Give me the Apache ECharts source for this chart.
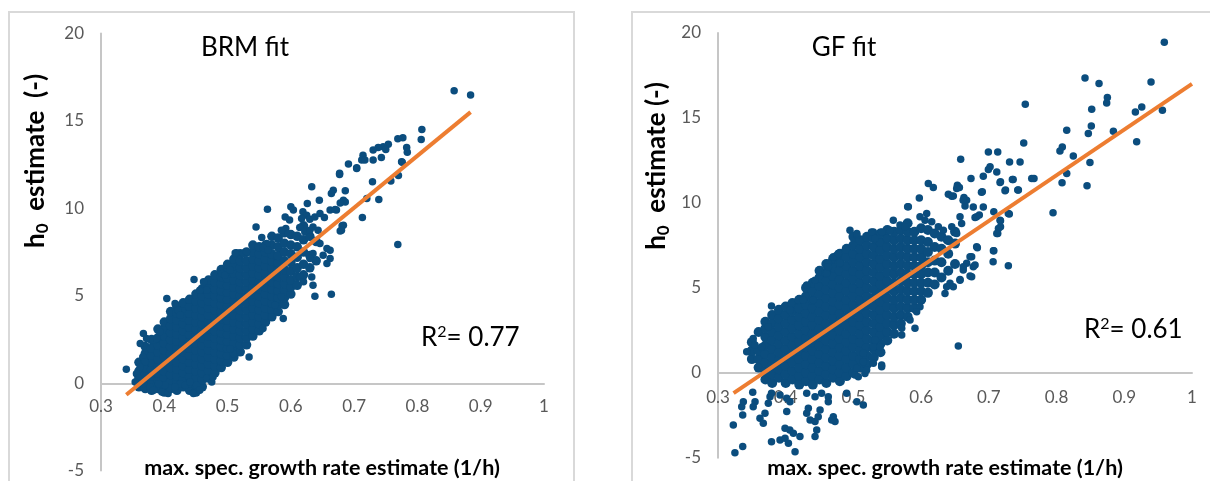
<!DOCTYPE html>
<html>
<head>
<meta charset="utf-8">
<script src="https://cdn.jsdelivr.net/npm/echarts@6/dist/echarts.min.js"></script>
<style>
  html, body { margin: 0; padding: 0; background: #fff; }
  #chart { width: 1210px; height: 481px; }
</style>
</head>
<body>
<div id="chart"></div>
<script>
// BRM fit: dense core, read column by column (x, list of y)
const brmCoreX = [0.36, 0.37, 0.38, 0.39, 0.40, 0.41, 0.42, 0.43, 0.44, 0.45, 0.46, 0.47, 0.48, 0.49, 0.50,
  0.51, 0.52, 0.53, 0.54, 0.55, 0.56, 0.57, 0.58, 0.59, 0.60, 0.61, 0.62, 0.63, 0.64];
const brmCoreY = [
  [-0.2, 0.3, 0.7, 1.2],
  [-0.3, 0.1, 0.5, 0.9, 1.3, 1.7, 2.1],
  [-0.4, 0.0, 0.4, 0.8, 1.2, 1.6, 2.0, 2.5],
  [-0.3, 0.2, 0.6, 1.0, 1.4, 1.8, 2.2, 2.6, 3.1],
  [-0.5, -0.1, 0.3, 0.7, 1.1, 1.5, 1.9, 2.3, 2.7, 3.1, 3.5],
  [-0.3, 0.1, 0.5, 0.9, 1.3, 1.7, 2.1, 2.5, 2.9, 3.3, 3.7, 4.1],
  [-0.4, 0.0, 0.4, 0.8, 1.2, 1.6, 2.0, 2.4, 2.8, 3.2, 3.6, 4.0, 4.4],
  [-0.2, 0.2, 0.6, 1.0, 1.4, 1.8, 2.2, 2.6, 3.0, 3.4, 3.8, 4.2, 4.6],
  [-0.4, 0.0, 0.4, 0.8, 1.2, 1.6, 2.0, 2.4, 2.8, 3.2, 3.6, 4.0, 4.4, 4.8],
  [-0.5, -0.1, 0.3, 0.7, 1.1, 1.5, 1.9, 2.3, 2.7, 3.1, 3.5, 3.9, 4.3, 4.7, 5.1],
  [-0.2, 0.2, 0.6, 1.0, 1.4, 1.8, 2.2, 2.6, 3.0, 3.4, 3.8, 4.2, 4.6, 5.0, 5.4],
  [0.3, 0.7, 1.1, 1.5, 1.9, 2.3, 2.7, 3.1, 3.5, 3.9, 4.3, 4.7, 5.1, 5.5, 5.9],
  [0.6, 1.0, 1.4, 1.8, 2.2, 2.6, 3.0, 3.4, 3.8, 4.2, 4.6, 5.0, 5.4, 5.8, 6.2],
  [0.9, 1.3, 1.7, 2.1, 2.5, 2.9, 3.3, 3.7, 4.1, 4.5, 4.9, 5.3, 5.7, 6.1, 6.5],
  [1.2, 1.6, 2.0, 2.4, 2.8, 3.2, 3.6, 4.0, 4.4, 4.8, 5.2, 5.6, 6.0, 6.4, 6.8],
  [1.5, 1.9, 2.3, 2.7, 3.1, 3.5, 3.9, 4.3, 4.7, 5.1, 5.5, 5.9, 6.3, 6.7, 7.1],
  [1.8, 2.2, 2.6, 3.0, 3.4, 3.8, 4.2, 4.6, 5.0, 5.4, 5.8, 6.2, 6.6, 7.0, 7.4],
  [2.2, 2.6, 3.0, 3.4, 3.8, 4.2, 4.6, 5.0, 5.4, 5.8, 6.2, 6.6, 7.0, 7.5],
  [2.7, 3.1, 3.5, 3.9, 4.3, 4.7, 5.1, 5.5, 5.9, 6.3, 6.7, 7.1, 7.5, 7.9],
  [3.0, 3.4, 3.8, 4.2, 4.6, 5.0, 5.4, 5.8, 6.2, 6.6, 7.0, 7.4, 7.8],
  [3.5, 3.9, 4.3, 4.7, 5.1, 5.5, 5.9, 6.3, 6.7, 7.1, 7.5, 7.9],
  [3.8, 4.2, 4.6, 5.0, 5.4, 5.8, 6.2, 6.6, 7.0, 7.4, 7.9, 8.4],
  [4.1, 4.5, 4.9, 5.3, 5.7, 6.1, 6.5, 6.9, 7.3, 7.8, 8.3],
  [4.5, 4.9, 5.3, 5.7, 6.1, 6.5, 7.0, 7.5, 8.0, 8.6],
  [5.1, 5.5, 5.9, 6.4, 6.9, 7.4, 7.9, 8.5],
  [5.6, 6.1, 6.6, 7.2, 7.8, 8.4],
  [6.2, 6.8, 7.5, 8.2, 9.0],
  [6.6, 7.3, 8.4],
  [7.0, 8.1]
];
// BRM fit: scattered points around the core
const brmEdge = [
  [0.858, 16.72], [0.884, 16.48], [0.807, 14.51], [0.806, 13.94], [0.777, 14.03], [0.769, 13.98], [0.754, 13.67],
  [0.746, 13.52], [0.738, 13.48], [0.730, 13.33], [0.750, 13.37], [0.783, 13.48], [0.784, 13.21], [0.743, 12.91],
  [0.730, 12.76], [0.714, 13.04], [0.712, 12.76], [0.717, 12.76], [0.704, 12.32], [0.691, 12.53], [0.776, 12.64],
  [0.770, 11.88], [0.758, 11.57], [0.729, 11.52], [0.677, 11.94], [0.667, 11.04], [0.686, 11.0], [0.683, 10.47],
  [0.672, 9.9], [0.720, 10.57], [0.739, 10.51], [0.713, 9.48], [0.681, 9.0], [0.678, 8.71], [0.769, 7.93], [0.662, 7.6],
  [0.704, 12.28], [0.677, 12.0], [0.775, 12.66], [0.633, 11.23], [0.664, 10.85], [0.645, 10.47], [0.686, 10.37],
  [0.678, 10.31], [0.626, 10.28], [0.600, 10.09], [0.604, 9.9], [0.563, 9.95], [0.662, 9.9], [0.670, 9.94],
  [0.619, 9.8], [0.625, 9.61], [0.617, 9.42], [0.630, 9.37], [0.638, 9.51], [0.646, 9.71], [0.591, 9.51],
  [0.598, 9.33], [0.653, 9.48], [0.545, 8.94], [0.592, 8.85], [0.585, 8.75], [0.596, 8.56], [0.614, 8.9],
  [0.622, 8.66], [0.630, 8.75], [0.635, 8.94], [0.643, 8.75], [0.683, 9.04], [0.680, 8.75], [0.554, 8.33],
  [0.562, 7.99], [0.556, 7.76], [0.564, 7.61], [0.514, 7.46], [0.528, 7.51],
  [0.646, 7.99], [0.657, 7.71], [0.662, 7.13], [0.657, 6.85], [0.651, 7.32], [0.635, 7.42], [0.630, 7.13],
  [0.614, 6.08], [0.633, 6.08], [0.635, 5.61], [0.620, 5.8], [0.638, 4.98], [0.664, 5.09], [0.588, 3.70],
  [0.340, 0.80], [0.362, 2.27], [0.367, 2.84], [0.372, 2.56], [0.383, 2.46], [0.388, 2.56], [0.366, 1.5],
  [0.370, 1.22], [0.362, 0.93], [0.356, 0.55], [0.359, 0.27], [0.354, 0.07], [0.367, -0.02], [0.377, -0.21],
  [0.383, -0.40], [0.396, -0.5], [0.406, -0.59],
  [0.404, 4.85], [0.417, 4.56], [0.422, 4.18], [0.425, 3.89], [0.393, 2.94], [0.447, 5.93], [0.462, 5.8],
  [0.467, 5.32], [0.456, 5.32], [0.491, 6.28], [0.496, 6.18], [0.504, 6.46], [0.512, 7.45], [0.525, 7.42], [0.530, 7.51],
  [0.425, -0.02], [0.433, -0.11], [0.441, 0.07], [0.451, -0.11], [0.456, -0.40], [0.446, -0.59], [0.467, 0.27],
  [0.475, 0.07], [0.477, 0.36], [0.409, -0.3], [0.417, -0.21], [0.401, -0.11], [0.391, -0.02],
  [0.534, 1.5], [0.509, 1.70], [0.504, 1.98], [0.556, 3.13], [0.570, 3.79], [0.575, 4.46], [0.585, 4.94]
];
const brmFit = [[0.340, -0.65], [0.884, 15.5]];

// GF fit: dense core
const gfCoreX = [0.35, 0.36, 0.37, 0.38, 0.39, 0.40, 0.41, 0.42, 0.43, 0.44, 0.45, 0.46, 0.47, 0.48, 0.49, 0.50,
  0.51, 0.52, 0.53, 0.54, 0.55, 0.56, 0.57, 0.58, 0.59, 0.60, 0.61, 0.62, 0.63, 0.64, 0.65];
const gfCoreY = [
  [0.8, 1.3, 1.8],
  [0.3, 0.8, 1.3, 2.4],
  [-0.4, 0.1, 0.6, 1.1, 1.6, 2.1, 2.6, 3.0],
  [-0.6, -0.1, 0.4, 0.9, 1.4, 1.9, 2.4, 2.9, 3.4],
  [-0.3, 0.2, 0.7, 1.2, 1.7, 2.2, 2.7, 3.2, 3.7],
  [-0.6, -0.1, 0.4, 0.9, 1.4, 1.9, 2.4, 2.9, 3.4, 3.9],
  [-0.4, 0.1, 0.6, 1.1, 1.6, 2.1, 2.6, 3.1, 3.6, 4.1],
  [-0.7, -0.2, 0.3, 0.8, 1.3, 1.8, 2.3, 2.8, 3.3, 3.8, 4.3],
  [-0.5, 0.0, 0.5, 1.0, 1.5, 2.0, 2.5, 3.0, 3.5, 4.0, 4.5, 5.0],
  [-0.7, -0.2, 0.3, 0.8, 1.3, 1.8, 2.3, 2.8, 3.3, 3.8, 4.3, 4.8, 5.3],
  [-0.4, 0.1, 0.6, 1.1, 1.6, 2.1, 2.6, 3.1, 3.6, 4.1, 4.6, 5.1, 5.6, 6.0],
  [-0.6, -0.1, 0.4, 0.9, 1.4, 1.9, 2.4, 2.9, 3.4, 3.9, 4.4, 4.9, 5.4, 5.9, 6.4],
  [-0.3, 0.2, 0.7, 1.2, 1.7, 2.2, 2.7, 3.2, 3.7, 4.2, 4.7, 5.2, 5.7, 6.2, 6.7],
  [-0.5, 0.0, 0.5, 1.0, 1.5, 2.0, 2.5, 3.0, 3.5, 4.0, 4.5, 5.0, 5.5, 6.0, 6.5, 7.0],
  [-0.2, 0.3, 0.8, 1.3, 1.8, 2.3, 2.8, 3.3, 3.8, 4.3, 4.8, 5.3, 5.8, 6.3, 6.8, 7.3],
  [0.0, 0.5, 1.0, 1.5, 2.0, 2.5, 3.0, 3.5, 4.0, 4.5, 5.0, 5.5, 6.0, 6.5, 7.0, 7.5, 8.0],
  [0.3, 0.8, 1.3, 1.8, 2.3, 2.8, 3.3, 3.8, 4.3, 4.8, 5.3, 5.8, 6.3, 6.8, 7.3, 7.8],
  [0.5, 1.0, 1.5, 2.0, 2.5, 3.0, 3.5, 4.0, 4.5, 5.0, 5.5, 6.0, 6.5, 7.0, 7.5, 8.0],
  [0.9, 1.4, 1.9, 2.4, 2.9, 3.4, 3.9, 4.4, 4.9, 5.4, 5.9, 6.4, 6.9, 7.4, 7.9],
  [1.2, 1.7, 2.2, 2.7, 3.2, 3.7, 4.2, 4.7, 5.2, 5.7, 6.2, 6.7, 7.2, 7.7, 8.2],
  [1.9, 2.4, 2.9, 3.4, 3.9, 4.4, 4.9, 5.4, 5.9, 6.4, 6.9, 7.4, 7.9, 8.4],
  [2.3, 2.8, 3.3, 3.8, 4.3, 4.8, 5.3, 5.8, 6.3, 6.8, 7.3, 7.8, 8.3],
  [2.9, 3.4, 3.9, 4.4, 4.9, 5.4, 5.9, 6.4, 6.9, 7.4, 7.9, 8.4],
  [3.3, 3.8, 4.3, 4.8, 5.3, 5.8, 6.3, 6.8, 7.3, 7.8, 8.3, 8.8],
  [3.8, 4.3, 4.8, 5.3, 5.8, 6.3, 6.8, 7.3, 7.8, 8.3],
  [4.3, 4.8, 5.3, 5.8, 6.3, 6.8, 7.3, 7.8, 8.5],
  [4.7, 5.3, 5.9, 6.5, 7.1, 7.7, 8.4],
  [5.2, 5.9, 6.6, 7.4, 8.2],
  [5.6, 6.5, 7.3, 8.0],
  [6.0, 7.0, 7.8],
  [6.4, 7.6, 8.3]
];
// GF fit: scattered points
const gfEdge = [
  [0.3226, -3.08], [0.325, -4.71], [0.3365, -4.35], [0.3365, -2.49], [0.335, -2.0], [0.3374, -1.71], [0.3513, -1.15],
  [0.3547, -1.71], [0.352, -2.0], [0.362, -2.68], [0.3669, -2.98], [0.3694, -2.39], [0.3743, -1.8], [0.3768, -1.41],
  [0.379, -1.21], [0.3916, -1.31], [0.4015, -1.51], [0.4063, -1.71], [0.4015, -2.29],
  [0.379, -4.06], [0.3916, -3.96], [0.399, -3.86], [0.404, -4.15], [0.4138, -4.65], [0.399, -3.27], [0.406, -3.37],
  [0.4113, -3.56], [0.421, -3.76],
  [0.431, -2.39], [0.4334, -2.09], [0.436, -2.78], [0.4433, -2.88], [0.4458, -3.37], [0.4433, -3.76], [0.448, -2.59],
  [0.4507, -2.19], [0.4629, -1.71], [0.4703, -2.59], [0.4728, -2.88], [0.4679, -2.78],
  [0.431, -1.21], [0.4433, -1.41], [0.453, -1.21], [0.4629, -1.41], [0.49, -1.21], [0.5146, -1.9], [0.505, -1.71],
  [0.379, 3.92], [0.3743, 2.71], [0.352, 2.02], [0.3547, 1.63], [0.3645, 1.53], [0.3424, 1.24],
  [0.4063, 3.69], [0.4186, 4.28], [0.426, 4.28], [0.4408, 4.28], [0.431, 5.16], [0.4433, 5.45], [0.4606, 5.94],
  [0.463, 6.44], [0.4753, 6.92], [0.48, 6.44], [0.4949, 8.39], [0.505, 8.1], [0.5294, 8.29], [0.5417, 8.29], [0.549, 7.9],
  [0.5417, 0.35], [0.5343, 1.73], [0.5294, 1.53], [0.5146, 1.14], [0.505, 0.26], [0.517, -0.04], [0.5022, -0.14],
  [0.6584, 12.57], [0.6993, 13.0], [0.7131, 13.0], [0.7018, 12.12], [0.6993, 11.96], [0.7117, 11.82], [0.7306, 12.41],
  [0.7172, 11.24], [0.7246, 10.75], [0.7359, 11.38], [0.7427, 10.75], [0.6918, 11.57], [0.6736, 11.44], [0.6903, 10.65],
  [0.6671, 10.16], [0.6632, 10.32], [0.6535, 11.04], [0.6565, 10.91], [0.6402, 10.51], [0.6452, 10.39], [0.6648, 9.81],
  [0.6918, 9.76], [0.6859, 9.28], [0.6796, 9.14], [0.7172, 8.94], [0.7073, 9.47], [0.7172, 8.59], [0.7131, 8.2],
  [0.7302, 9.34], [0.6106, 11.14], [0.618, 10.91], [0.5973, 10.29], [0.5801, 9.77],
  [0.7073, 7.18], [0.7063, 6.53], [0.7288, 6.29], [0.682, 7.41], [0.6746, 6.82], [0.6672, 6.44], [0.6622, 6.04],
  [0.677, 6.24], [0.6746, 5.65], [0.6574, 5.45], [0.6549, 1.57], [0.6426, 5.26], [0.6352, 4.67], [0.6377, 5.06], [0.6475, 5.06],
  [0.6008, 4.28], [0.5983, 3.88], [0.5934, 3.59], [0.5836, 3.1], [0.5909, 2.61], [0.5713, 2.61], [0.5713, 2.22],
  [0.5688, 3.39], [0.5319, 1.92], [0.5393, 1.53], [0.5417, 0.45], [0.5294, 0.55], [0.5146, 0.65], [0.5195, 0.16], [0.5072, -0.24],
  [0.505, 8.2], [0.5267, 8.29], [0.5319, 7.9], [0.554, 8.39], [0.5589, 8.98], [0.5688, 8.69], [0.5762, 8.59],
  [0.5811, 9.77], [0.5983, 9.18], [0.6082, 9.38], [0.6057, 8.98], [0.6156, 8.88], [0.6254, 8.59], [0.6328, 8.39],
  [0.6452, 8.59], [0.6525, 8.2], [0.6476, 7.61], [0.6377, 7.81], [0.4703, 6.82], [0.4777, 7.02], [0.4605, 5.85], [0.463, 6.24],
  [0.9591, 19.45], [0.842, 17.35], [0.8627, 17.02], [0.9395, 17.12], [0.7538, 15.8], [0.875, 16.2], [0.874, 15.88],
  [0.8519, 15.51], [0.9164, 15.35], [0.9258, 15.65], [0.9563, 15.45], [0.8513, 14.53], [0.8469, 14.08], [0.815, 14.28],
  [0.8839, 14.22], [0.9183, 13.59], [0.7515, 13.53], [0.8085, 13.29], [0.805, 13.06], [0.8247, 12.76], [0.8493, 12.37],
  [0.815, 11.73], [0.8081, 11.18], [0.845, 11.0], [0.7948, 9.41],
  [0.7461, 12.41], [0.7165, 11.2], [0.7347, 11.38], [0.7633, 11.44], [0.7667, 11.44], [0.7239, 10.71], [0.7436, 10.75],
  [0.6891, 10.63], [0.6525, 10.85], [0.6475, 10.41], [0.662, 10.16], [0.677, 9.76], [0.682, 9.18], [0.6574, 9.18],
  [0.6598, 8.79], [0.7165, 8.98], [0.7287, 9.38], [0.7141, 8.49], [0.7117, 8.2], [0.7067, 7.18], [0.6722, 6.82],
  [0.6796, 6.34], [0.6623, 6.24], [0.6722, 5.69], [0.6574, 5.49], [0.683, 7.35]
];
const gfFit = [[0.323, -1.2], [1.0, 17.0]];

const expand = (xs, ys) => {
  const out = [];
  xs.forEach((x, i) => ys[i].forEach(y => out.push([x, y])));
  return out;
};

const dotColor = '#0B4D7E';
const fitColor = '#ED7D31';
const axisGray = '#c6c6c6';
const labelGray = '#595959';
const font = 'Lato, "Open Sans", sans-serif';

const chart = echarts.init(document.getElementById('chart'));

// each panel = upper grid (0..20, carries the x axis) + lower grid (-5..0)
const xShown = (gridIndex, margin) => ({
  type: 'value', gridIndex, min: 0.3, max: 1, interval: 0.1,
  axisLine: { show: true, onZero: false, lineStyle: { color: axisGray, width: 2 } },
  axisTick: { show: false },
  splitLine: { show: false },
  axisLabel: {
    color: labelGray, fontSize: 17, fontFamily: font, margin,
    formatter: v => String(Math.round(v * 10) / 10)
  }
});
const xHidden = (gridIndex) => ({
  type: 'value', gridIndex, min: 0.3, max: 1, show: false
});
const yAxisOf = (gridIndex, min, max, showMax) => ({
  type: 'value', gridIndex, min, max, interval: 5,
  axisLine: { show: true, onZero: false, lineStyle: { color: axisGray, width: 2 } },
  axisTick: { show: false },
  splitLine: { show: false },
  axisLabel: { color: labelGray, fontSize: 17, fontFamily: font, margin: 17, showMaxLabel: showMax }
});

const yName = {
  fontFamily: font, fontSize: 26, fontWeight: 'bold', fill: '#000',
  rich: {
    b: { fontFamily: font, fontSize: 26, fontWeight: 'bold', color: '#000' },
    sub: { fontFamily: font, fontSize: 17, fontWeight: 'bold', color: '#000', padding: [13, 0, 0, 0] }
  }
};
const r2Rich = {
  t: { fontFamily: font, fontSize: 26, color: '#000' },
  sup: { fontFamily: font, fontSize: 16, color: '#000', padding: [0, 0, 12, 0] }
};

const scatterOf = (axisIndex, data, size) => ({
  type: 'scatter', xAxisIndex: axisIndex, yAxisIndex: axisIndex, data, clip: false,
  symbolSize: size, itemStyle: { color: dotColor, opacity: 1 }, z: 2, silent: true
});
const fitOf = (axisIndex, data) => ({
  type: 'line', xAxisIndex: axisIndex, yAxisIndex: axisIndex, data, clip: false,
  showSymbol: false, lineStyle: { color: fitColor, width: 4 }, z: 3, silent: true
});

const xNameStyle = {
  text: 'max. spec. growth rate estimate (1/h)', fontFamily: font, fontSize: 21.5, fontWeight: 'bold',
  fill: '#000', align: 'center', verticalAlign: 'middle'
};

chart.setOption({
  animation: false,
  grid: [
    { left: 101, top: 33.4, width: 443, height: 349.9, outerBoundsMode: 'none' },
    { left: 101, top: 383.3, width: 443, height: 87.1, outerBoundsMode: 'none' },
    { left: 718, top: 33, width: 474, height: 339.7, outerBoundsMode: 'none' },
    { left: 718, top: 372.7, width: 474, height: 85, outerBoundsMode: 'none' }
  ],
  xAxis: [xShown(0, 15), xHidden(1), xShown(2, 16), xHidden(3)],
  yAxis: [yAxisOf(0, 0, 20, true), yAxisOf(1, -5, 0, false), yAxisOf(2, 0, 20, true), yAxisOf(3, -5, 0, false)],
  series: [
    scatterOf(0, expand(brmCoreX, brmCoreY), 9.5),
    scatterOf(0, brmEdge, 7.5),
    fitOf(0, brmFit),
    scatterOf(2, expand(gfCoreX, gfCoreY), 10),
    scatterOf(2, gfEdge, 7.5),
    fitOf(2, gfFit)
  ],
  graphic: [
    // panel frames
    { type: 'rect', shape: { x: 9, y: 12, width: 565, height: 480 },
      style: { fill: 'none', stroke: '#d9d9d9', lineWidth: 2 }, z: -10 },
    { type: 'rect', shape: { x: 632, y: 12, width: 600, height: 480 },
      style: { fill: 'none', stroke: '#d9d9d9', lineWidth: 2 }, z: -10 },
    // panel titles
    { type: 'text', x: 245, y: 48,
      style: { text: 'BRM fit', fontFamily: font, fontSize: 26, fill: '#000', align: 'center', verticalAlign: 'middle' } },
    { type: 'text', x: 844, y: 48,
      style: { text: 'GF fit', fontFamily: font, fontSize: 26, fill: '#000', align: 'center', verticalAlign: 'middle' } },
    // R squared
    { type: 'text', x: 421, y: 338,
      style: { text: '{t|R}{sup|2}{t|= 0.77}', rich: r2Rich, align: 'left', verticalAlign: 'middle' } },
    { type: 'text', x: 1084, y: 330,
      style: { text: '{t|R}{sup|2}{t|= 0.61}', rich: r2Rich, align: 'left', verticalAlign: 'middle' } },
    // y axis names
    { type: 'text', x: 36, y: 161, rotation: Math.PI / 2,
      style: Object.assign({ text: '{b|h}{sub|0}{b|  estimate  (-)}', align: 'center', verticalAlign: 'middle' }, yName) },
    { type: 'text', x: 657, y: 166, rotation: Math.PI / 2,
      style: Object.assign({ text: '{b|h}{sub|0}{b|  estimate (-)}', align: 'center', verticalAlign: 'middle' }, yName) },
    // x axis names
    { type: 'text', x: 322, y: 468, style: xNameStyle },
    { type: 'text', x: 945, y: 468, style: xNameStyle }
  ]
});
</script>
</body>
</html>
